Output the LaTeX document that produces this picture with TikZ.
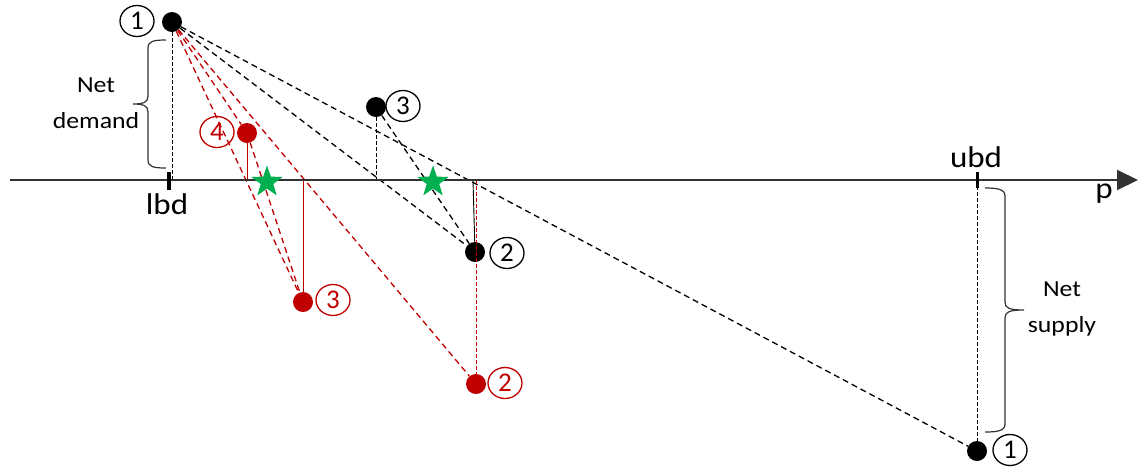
\documentclass[tikz,border=0pt]{standalone}
\usepackage{fontspec}
\setmainfont{Carlito}
\usetikzlibrary{shapes.geometric,arrows.meta}
\definecolor{dred}{RGB}{192,0,0}
\definecolor{sgreen}{RGB}{0,176,80}
\definecolor{axisgray}{RGB}{50,50,50}
\begin{document}
\begin{tikzpicture}[x=1pt,y=-1pt,
  dot/.style={circle,fill=black,inner sep=0pt,minimum size=20pt},
  rdot/.style={dot,fill=dred},
  cnum/.style={ellipse,draw,line width=1.3pt,inner sep=0pt,minimum width=34pt,minimum height=31pt,font=\fontsize{27}{27}\selectfont},
  rcnum/.style={cnum,draw=dred,text=dred},
  bline/.style={black,line width=1.3pt,dash pattern=on 6pt off 4pt},
  rline/.style={dred,line width=1.3pt,dash pattern=on 6pt off 4pt},
  bvert/.style={black,line width=0.9pt,dash pattern=on 4pt off 2pt},
  rvert/.style={dred,line width=0.9pt},
  brace/.style={axisgray,line width=1.2pt},
  lbl/.style={font=\fontsize{30}{30}\selectfont,inner sep=0pt},
  txt/.style={font=\fontsize{23}{36}\selectfont,align=center,inner sep=0pt},
  greenstar/.style={star,star points=5,star point ratio=2.5,fill=sgreen,inner sep=0pt,minimum size=33pt}
]
\useasboundingbox (0,0) rectangle (1138,467);

% points
\node[dot] (t1) at (172,22) {};
\node[dot] (b3) at (376,107) {};
\node[dot] (b2) at (475,252) {};
\node[dot] (bb1) at (977,451) {};
\node[rdot] (r4) at (247,133) {};
\node[rdot] (r3) at (303,302) {};
\node[rdot] (r2) at (476,384) {};

% labels of points
\node[cnum] (lt1) at (137,21) {1};
\node[cnum] (lb3) at (403,106) {3};
\node[cnum] (lb2) at (507,253) {2};
\node[cnum] (lbb1) at (1010,450) {1};
\node[rcnum] (lr4) at (217,132) {4};
\node[rcnum] (lr3) at (333,300) {3};
\node[rcnum] (lr2) at (505,383) {2};

% axis feet
\coordinate (f1) at (172,180);
\coordinate (f3) at (376,180);
\coordinate (f2) at (473,180);
\coordinate (fr2) at (476,180);
\coordinate (fr4) at (247,180);
\coordinate (fr3) at (303,180);
\coordinate (fu) at (977,186);

% secant lines
\draw[bline] (t1) -- (bb1);
\draw[bline] (t1) -- (b2);
\draw[bline] (b3) -- (b2);
\draw[rline] (t1) -- (r2);
\draw[rline] (t1) -- (r3);
\draw[rline] (t1) -- (r4);
\draw[rline] (r4) -- (r3);

% verticals
\draw[bvert] (t1) -- (f1);
\draw[bvert] (b3) -- (f3);
\draw[black,line width=0.9pt] (f2) -- (b2);
\draw[dred,line width=1pt,dash pattern=on 4pt off 2pt] (fr2) -- (r2);
\draw[rvert] (r4) -- (fr4);
\draw[rvert] (fr3) -- (r3);
\draw[bvert] (fu) -- (bb1);

% axis
\coordinate (axL) at (10,180);
\coordinate (axR) at (1138,180);
\draw[axisgray,line width=2pt,-{Triangle[length=21pt,width=20pt]}] (axL) -- (axR);
\draw[black,line width=4pt] (169,172) -- (169,190);
\draw[black,line width=3pt] (977,172) -- (977,188);
\node[lbl] (lbd) at (167,204) {\scalebox{1.1}[1]{lbd}};
\node[lbl] (ubd) at (976,157) {\scalebox{1.1}[1]{ubd}};
\node[lbl] (p) at (1104,194) {\scalebox{1.1}[1]{p}};

% braces
\draw[brace] (166,40) .. controls (154,40) and (148,41) .. (148,48) -- (148,96)
  .. controls (148,102) and (144,104) .. (133,104)
  .. controls (144,104) and (148,106) .. (148,112) -- (148,160)
  .. controls (148,167) and (154,168) .. (166,168);
\node[txt] (nd) at (96,103) {\scalebox{1.12}[1]{Net}\\\scalebox{1.12}[1]{demand}};
\draw[brace] (985,188) .. controls (997,188) and (1005,189) .. (1005,196) -- (1005,302)
  .. controls (1005,308) and (1009,310) .. (1024,310)
  .. controls (1009,310) and (1005,312) .. (1005,318) -- (1005,424)
  .. controls (1005,431) and (997,432) .. (985,432);
\node[txt] (ns) at (1062,309) {\scalebox{1.12}[1]{Net}\\\scalebox{1.12}[1]{supply}};

% stars
\node[greenstar] (s1) at (267,182) {};
\node[greenstar] (s2) at (433,182) {};
\end{tikzpicture}
\end{document}
